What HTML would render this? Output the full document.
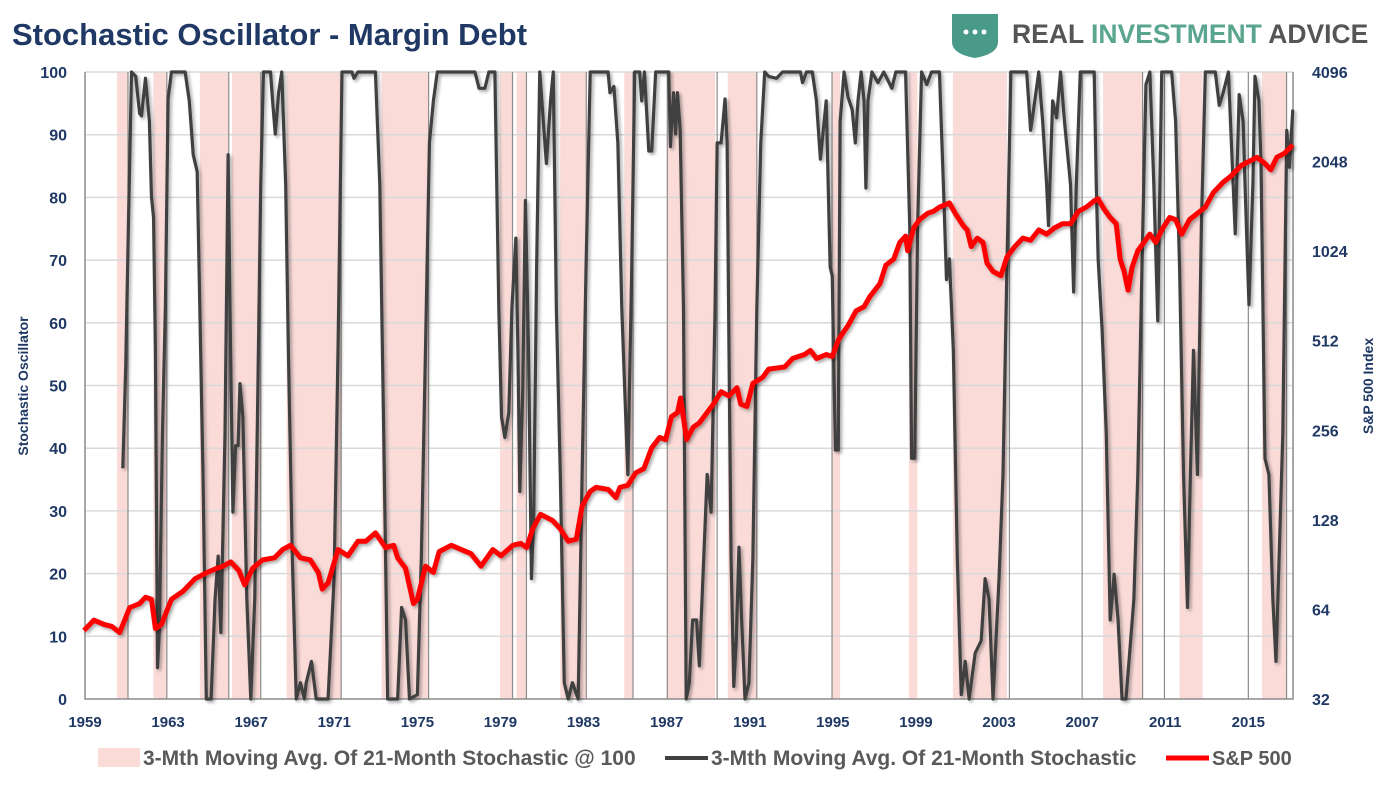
<!DOCTYPE html>
<html><head><meta charset="utf-8">
<style>
body{margin:0;background:#fff;width:1390px;height:798px;overflow:hidden;font-family:"Liberation Sans",Arial,sans-serif;}
svg text{font-family:"Liberation Sans",Arial,sans-serif;}
</style></head>
<body>
<svg id="chart" width="1390" height="798" viewBox="0 0 1390 798" xmlns="http://www.w3.org/2000/svg">
<defs>
<filter id="sh" x="-5%" y="-5%" width="110%" height="110%"><feDropShadow dx="2" dy="2" stdDeviation="1.5" flood-color="#000" flood-opacity="0.35"/></filter>
</defs>
<text x="12" y="45" font-size="31" font-weight="bold" fill="#1f3864">Stochastic Oscillator - Margin Debt</text>
<g>
<path d="M952 14 h46 v28 q0 12 -23 16 q-23 -4 -23 -16z" fill="#4a9a8a"/>
<circle cx="966" cy="32" r="2.5" fill="#fff"/><circle cx="975" cy="32" r="2.5" fill="#fff"/><circle cx="984" cy="32" r="2.5" fill="#fff"/>
<text x="1012" y="43" font-size="26.5" font-weight="bold" fill="#555">REAL <tspan fill="#5aa58f">INVESTMENT</tspan> ADVICE</text>
</g>
<g id="plot"></g>
<text transform="translate(28,386) rotate(-90)" text-anchor="middle" font-size="14" font-weight="bold" fill="#1f3864">Stochastic Oscillator</text>
<text transform="translate(1373,386) rotate(-90)" text-anchor="middle" font-size="14" font-weight="bold" fill="#1f3864">S&amp;P 500 Index</text>
<g>
<g><rect x="98" y="748" width="42" height="19" fill="#fadbd8"/><text x="143" y="765" font-size="21" font-weight="bold" fill="#595959">3-Mth Moving Avg. Of 21-Month Stochastic @ 100</text></g>
<g><line x1="665" y1="758" x2="708" y2="758" stroke="#404040" stroke-width="4"/><text x="711" y="765" font-size="21" font-weight="bold" fill="#595959">3-Mth Moving Avg. Of 21-Month Stochastic</text></g>
<g><line x1="1166" y1="758" x2="1209" y2="758" stroke="#ff0000" stroke-width="5"/><text x="1212" y="765" font-size="20" font-weight="bold" fill="#595959">S&amp;P 500</text></g>
</g>
</svg>
<script>
const shadedStart=[1960.54,1962.29,1964.53,1966.07,1968.71,1973.28,1978.98,1979.77,1981.88,1984.96,1987.03,1989.94,1994.96,1998.66,2000.78,2008.01,2011.69,2015.66];
const shadedEnd=[1961.07,1962.94,1965.92,1967.46,1971.33,1975.54,1979.58,1980.25,1983.13,1985.38,1989.34,1991.34,1995.35,1999.07,2003.38,2009.91,2012.80,2016.84];
const markerYears=[1961.07,1962.94,1965.92,1967.46,1971.33,1975.54,1979.58,1980.25,1983.13,1985.38,1987.03,1989.43,1991.34,1994.96,2003.50,2007.00,2009.91,2010.96,2015.0,2016.84];
const stochYears=[1960.82,1960.96,1961.09,1961.24,1961.44,1961.63,1961.72,1961.91,1962.10,1962.20,1962.30,1962.39,1962.49,1962.58,1962.73,1962.87,1963.00,1963.16,1963.82,1964.02,1964.21,1964.40,1964.49,1964.68,1964.84,1965.07,1965.26,1965.41,1965.54,1965.74,1965.89,1965.98,1966.12,1966.25,1966.37,1966.46,1966.60,1966.79,1966.98,1967.17,1967.32,1967.46,1967.59,1967.93,1968.03,1968.16,1968.32,1968.47,1968.66,1968.79,1968.98,1969.17,1969.37,1969.56,1969.65,1969.90,1970.13,1970.70,1970.99,1971.18,1971.37,1971.85,1971.95,1972.14,1972.98,1973.19,1973.38,1973.57,1974.05,1974.24,1974.43,1974.62,1975.00,1975.19,1975.39,1975.58,1975.77,1975.96,1977.77,1977.97,1978.25,1978.44,1978.73,1978.92,1979.05,1979.21,1979.40,1979.55,1979.74,1979.84,1979.93,1980.07,1980.20,1980.35,1980.49,1980.60,1980.74,1980.89,1981.21,1981.41,1981.54,1981.69,1981.88,1982.07,1982.26,1982.46,1982.74,1982.93,1983.12,1983.32,1984.18,1984.27,1984.46,1984.65,1984.84,1985.13,1985.32,1985.46,1985.70,1985.80,1985.93,1986.14,1986.28,1986.47,1987.10,1987.18,1987.33,1987.43,1987.52,1987.65,1987.81,1987.94,1988.09,1988.25,1988.44,1988.57,1988.95,1989.14,1989.33,1989.43,1989.62,1989.81,1989.91,1990.00,1990.10,1990.23,1990.35,1990.48,1990.61,1990.77,1990.96,1991.15,1991.34,1991.53,1991.72,1991.91,1992.29,1992.58,1993.44,1993.54,1993.73,1994.01,1994.21,1994.40,1994.68,1994.87,1994.97,1995.12,1995.26,1995.35,1995.54,1995.73,1995.93,1996.08,1996.21,1996.36,1996.50,1996.59,1996.69,1996.88,1997.17,1997.45,1997.84,1998.03,1998.50,1998.70,1998.79,1998.94,1999.08,1999.27,1999.52,1999.75,2000.13,2000.32,2000.47,2000.61,2000.80,2000.99,2001.18,2001.37,2001.56,2001.85,2002.14,2002.33,2002.52,2002.71,2003.00,2003.19,2003.38,2003.57,2004.33,2004.52,2004.72,2004.91,2005.10,2005.29,2005.38,2005.58,2005.77,2005.96,2006.15,2006.44,2006.59,2006.72,2006.91,2007.58,2007.68,2007.77,2007.96,2008.16,2008.35,2008.54,2008.73,2008.92,2009.11,2009.30,2009.49,2009.68,2009.88,2010.07,2010.26,2010.45,2010.64,2010.83,2011.31,2011.50,2011.69,2011.88,2012.07,2012.21,2012.36,2012.55,2012.74,2012.93,2013.41,2013.60,2013.79,2014.04,2014.37,2014.56,2014.75,2014.84,2015.03,2015.22,2015.32,2015.51,2015.61,2015.80,2015.99,2016.18,2016.33,2016.47,2016.66,2016.85,2016.98,2017.14];
const stochValues=[36.8,53.0,75.5,100,99.3,93.4,93.0,99.0,92.1,80.1,76.8,55.6,5.0,11.0,42.7,62.6,95.7,100,100,95.4,86.8,84.1,68.9,35.8,0,0,15.9,22.8,10.6,42.4,86.8,62.3,29.8,40.4,40.4,50.3,45.0,15.9,0,15.9,49.0,82.1,100,100,95.4,90.1,96.7,100,82.1,55.6,22.5,0,2.6,0,2.6,6.0,0,0,19.2,55.6,100,100,99.0,100,100,82.1,42.4,0,0,14.6,12.6,0,0.7,22.5,55.6,88.7,95.4,100,100,97.4,97.4,100,100,62.3,45.0,41.7,45.7,62.3,73.5,55.6,33.1,49.0,79.5,55.6,19.2,29.1,68.9,100,85.4,95.4,100,62.3,35.8,2.6,0,2.6,0,35.8,68.9,100,100,96.7,97.7,88.7,62.3,35.8,68.9,100,100,95.4,100,87.4,87.4,100,100,88.1,96.7,90.1,96.7,90.7,62.3,0,2.6,12.6,12.6,5.3,35.8,29.8,62.3,88.7,88.7,95.7,88.7,55.6,22.5,2.0,9.3,24.2,12.6,0,2.6,22.5,62.3,88.7,100,99.3,99.0,100,100,98.3,100,100,95.4,86.1,95.4,68.9,67.5,39.7,39.7,92.1,100,96.0,94.0,88.7,95.4,100,95.4,81.5,95.4,100,98.3,100,97.4,100,100,75.5,38.4,38.4,75.5,100,98.0,100,100,82.1,66.9,70.2,55.6,22.5,0.7,6.0,0,7.3,9.3,19.2,15.9,0,19.2,35.8,68.9,100,100,90.7,95.4,100,92.1,82.1,75.5,95.4,92.7,100,92.1,82.1,64.9,82.1,100,100,82.1,70.2,58.9,42.4,12.6,19.9,12.6,0,0,7.9,15.9,35.8,68.9,98.0,100,82.1,60.3,100,100,92.1,68.9,35.8,14.6,35.8,55.6,35.8,75.5,100,100,94.7,96.7,100,74.2,96.4,92.1,82.1,62.9,82.1,99.3,95.4,85.4,38.4,35.8,15.9,6.0,21.2,42.4,90.7,84.8,94.0];
const spYears=[1958.95,1959.43,1959.91,1960.29,1960.67,1961.15,1961.63,1961.91,1962.20,1962.39,1962.68,1963.16,1963.73,1964.30,1964.88,1965.35,1965.64,1966.02,1966.40,1966.69,1967.07,1967.55,1968.12,1968.51,1968.89,1969.37,1969.84,1970.23,1970.42,1970.70,1971.18,1971.66,1972.14,1972.52,1972.98,1973.47,1973.86,1974.05,1974.43,1974.81,1975.00,1975.39,1975.77,1976.05,1976.63,1977.11,1977.58,1978.06,1978.63,1979.02,1979.59,1979.97,1980.26,1980.55,1980.93,1981.50,1981.88,1982.26,1982.65,1982.93,1983.32,1983.60,1984.18,1984.56,1984.75,1985.13,1985.51,1985.90,1986.28,1986.66,1986.95,1987.23,1987.52,1987.67,1987.96,1988.28,1988.57,1989.24,1989.62,1990.00,1990.38,1990.57,1990.86,1991.15,1991.63,1991.91,1992.68,1993.06,1993.63,1993.92,1994.21,1994.68,1994.97,1995.26,1995.73,1996.12,1996.50,1996.79,1997.26,1997.55,1997.93,1998.22,1998.50,1998.60,1998.89,1999.17,1999.56,1999.84,2000.13,2000.61,2000.89,2001.28,2001.47,2001.66,2001.95,2002.23,2002.42,2002.71,2003.09,2003.38,2003.76,2004.14,2004.52,2004.91,2005.29,2005.67,2006.05,2006.44,2006.82,2007.20,2007.58,2007.77,2008.06,2008.35,2008.64,2008.83,2009.02,2009.21,2009.40,2009.68,2009.97,2010.26,2010.54,2010.83,2011.21,2011.50,2011.79,2012.17,2012.55,2012.93,2013.31,2013.79,2014.17,2014.65,2015.03,2015.42,2015.80,2016.08,2016.37,2016.75,2017.14];
const spValues=[54.4,58.9,57.0,56.1,53.5,64.9,67.0,70.3,69.2,55.2,57.0,69.2,73.8,81.2,85.2,88.0,89.4,92.4,86.6,77.4,88.0,93.9,95.4,101.7,105.1,95.4,93.9,85.2,74.9,78.6,101.7,96.9,108.5,108.5,115.7,103.3,105.1,95.4,88.0,67.0,69.2,89.4,85.2,100.1,105.1,101.7,98.5,89.4,101.7,96.9,105.1,106.7,103.3,119.4,133.6,127.4,119.4,108.5,110.2,142.5,159.5,164.6,162.0,152.0,164.6,167.3,184.2,190.3,223.5,242.1,238.2,284.3,293.5,328.6,238.2,262.3,270.9,313,345,334,356,313,308,368,386,411,418,446,460,475,446,460,453,515,576,645,666,722,795,918,963,1095,1150,1028,1226,1307,1372,1394,1439,1487,1372,1246,1206,1061,1132,1095,933,875,847,979,1061,1132,1114,1206,1168,1226,1266,1266,1394,1439,1511,1535,1416,1328,1266,963,875,757,903,1028,1095,1168,1095,1206,1328,1307,1168,1307,1372,1439,1610,1745,1832,1985,2050,2116,2017,1922,2116,2186,2330];
const leftTicks=[0,10,20,30,40,50,60,70,80,90,100];
const rightTicks=[32,64,128,256,512,1024,2048,4096];
const xTickYears=[1959,1963,1967,1971,1975,1979,1983,1987,1991,1995,1999,2003,2007,2011,2015];

const NS='http://www.w3.org/2000/svg';
const L=85,R=1293,T=72,B=699,X0=1959,X1=2017.15;
const xs=y=>L+(y-X0)/(X1-X0)*(R-L);
const yl=v=>B-v/100*(B-T);
const yr=v=>B-(Math.log2(v)-5)/7*(B-T);
const plot=document.getElementById('plot');
function mk(tag,attrs,parent){const e=document.createElementNS(NS,tag);for(const k in attrs)e.setAttribute(k,attrs[k]);(parent||plot).appendChild(e);return e;}

shadedStart.forEach((s,i)=>{
  const r=mk('rect',{x:xs(s),y:T,width:xs(shadedEnd[i])-xs(s),height:B-T,fill:'#fadbd8'});
  
  
});
leftTicks.forEach(v=>{
  if(v>0){const g=mk('line',{x1:L,x2:R,y1:yl(v),y2:yl(v),stroke:'#d9d9d9','stroke-width':1.5});
  
  }
  const t=mk('text',{x:L-18,y:yl(v)+6,'text-anchor':'end','font-size':16,'font-weight':'bold',fill:'#1f3864'});
  t.textContent=v;
  
  
});
markerYears.forEach(y=>{
  const l=mk('line',{x1:xs(y),x2:xs(y),y1:T,y2:B,stroke:'#8c8c8c','stroke-width':1.2});
  
  
});
rightTicks.forEach(v=>{
  const t=mk('text',{x:R+19,y:yr(v)+6,'text-anchor':'start','font-size':16,'font-weight':'bold',fill:'#1f3864'});
  t.textContent=v;
  
  
});
xTickYears.forEach(y=>{
  const t=mk('text',{x:xs(y),y:727,'text-anchor':'middle','font-size':15,'font-weight':'bold',fill:'#1f3864'});
  t.textContent=y;
  
  
});
const ax=mk('path',{d:`M${L} ${T}V${B}H${R}V${T}`,fill:'none',stroke:'#8c8c8c','stroke-width':1.5});


const sp=mk('polyline',{points:stochYears.map((y,i)=>xs(y)+','+yl(stochValues[i])).join(' '),fill:'none',stroke:'#404040','stroke-width':3.2,'stroke-linejoin':'round',filter:'url(#sh)'});


const rp=mk('polyline',{points:spYears.map((y,i)=>xs(y)+','+yr(spValues[i])).join(' '),fill:'none',stroke:'#ff0000','stroke-width':5,'stroke-linejoin':'round',filter:'url(#sh)'});


</script>
</body></html>
